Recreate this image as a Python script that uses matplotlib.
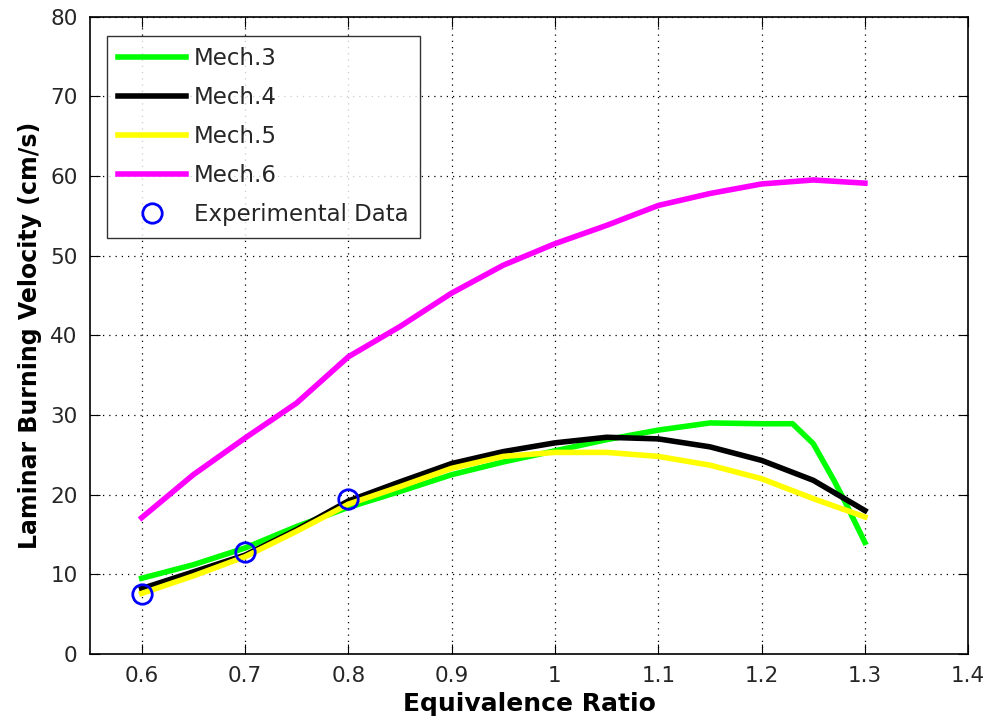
import matplotlib.pyplot as plt

# equivalence ratio grid for the mechanism curves
phi = [0.6, 0.65, 0.7, 0.75, 0.8, 0.85, 0.9, 0.95, 1.0, 1.05, 1.1, 1.15, 1.2, 1.25, 1.3]

mech3_phi = [0.6, 0.65, 0.7, 0.75, 0.8, 0.85, 0.9, 0.95, 1.0, 1.05, 1.1, 1.15, 1.2,
             1.23, 1.25, 1.27, 1.28, 1.3]
mech3 = [9.5, 11.2, 13.3, 16.0, 18.4, 20.4, 22.5, 24.1, 25.5, 26.9, 28.1, 29.0, 28.9,
         28.9, 26.4, 21.8, 19.3, 14.0]
mech4 = [8.2, 10.3, 12.4, 15.6, 19.2, 21.6, 23.9, 25.4, 26.5, 27.2, 27.0, 26.0, 24.3, 21.8, 18.0]
mech5 = [7.6, 9.8, 12.2, 15.4, 18.8, 21.0, 23.3, 24.8, 25.3, 25.3, 24.8, 23.7, 22.0, 19.5, 17.2]
mech6 = [17.1, 22.5, 27.1, 31.5, 37.3, 41.1, 45.3, 48.8, 51.5, 53.8, 56.3, 57.8, 59.0, 59.5, 59.1]

exp_phi = [0.6, 0.7, 0.8]
exp_su = [7.5, 12.8, 19.5]

fig = plt.figure(figsize=(9.89, 7.25), dpi=100)
ax = fig.add_axes([0.091, 0.098, 0.888, 0.879])

ax.plot(mech3_phi, mech3, color='#00ff00', lw=4, label='Mech.3')
ax.plot(phi, mech4, color='black', lw=4, label='Mech.4')
ax.plot(phi, mech5, color='#ffff00', lw=4, label='Mech.5')
ax.plot(phi, mech6, color='#ff00ff', lw=4, label='Mech.6')
ax.plot(exp_phi, exp_su, 'o', mfc='none', mec='blue', mew=2, ms=14, label='Experimental Data')

ax.set_xlim(0.55, 1.4)
ax.set_ylim(0, 80)
ax.set_xticks([0.6, 0.7, 0.8, 0.9, 1.0, 1.1, 1.2, 1.3, 1.4])
ax.set_xticklabels(['0.6', '0.7', '0.8', '0.9', '1', '1.1', '1.2', '1.3', '1.4'])
ax.set_yticks(range(0, 81, 10))
ax.tick_params(direction='in', length=7, top=True, right=True, labelsize=15.5,
               labelcolor='#262626', pad=9)
ax.grid(True, linestyle=(0, (1, 4)), color='black', lw=0.9)
for s in ax.spines.values():
    s.set_linewidth(1.2)

ax.set_xlabel('Equivalence Ratio', fontsize=18, fontweight='bold', labelpad=4)
ax.set_ylabel('Laminar Burning Velocity (cm/s)', fontsize=17, fontweight='bold', labelpad=6)

leg = ax.legend(loc='upper left', bbox_to_anchor=(0.019, 0.970), borderaxespad=0,
                fontsize=16.5, frameon=True, fancybox=False, edgecolor='black',
                handlelength=2.95, borderpad=0.5, labelspacing=0.7, handletextpad=0.35)
leg.get_frame().set_linewidth(1.0)
for t in leg.get_texts():
    t.set_color('#262626')

plt.savefig('out.png', dpi=100)
